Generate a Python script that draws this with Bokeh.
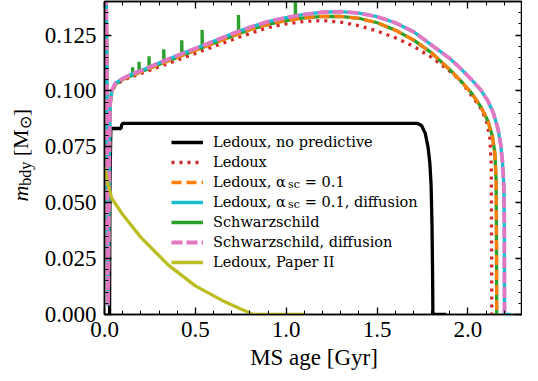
from bokeh.plotting import figure
from bokeh.models import (Range1d, LinearAxis, SingleIntervalTicker, NumeralTickFormatter,
                          CustomJSTickFormatter, Legend, LegendItem, Label, Div)
from bokeh.layouts import row, column
from bokeh.embed import file_html
from bokeh.resources import INLINE

# ---------------- data ----------------
# Ledoux, no predictive
black_x = [0.028, 0.030, 0.035, 0.090, 0.095, 0.100, 1.720, 1.745, 1.765, 1.780,
           1.790, 1.797, 1.802, 1.805, 1.807, 1.880]
black_y = [0.000, 0.060, 0.0832, 0.0832, 0.0848, 0.0855, 0.0855, 0.0845, 0.0810, 0.0750,
           0.0680, 0.0580, 0.0400, 0.0200, 0.0000, 0.0000]

# Ledoux
red_x = [0.008, 0.012, 0.016, 0.020, 0.024, 0.030, 0.040, 0.06, 0.10, 0.20, 0.30, 0.40,
         0.50, 0.60, 0.70, 0.80, 0.90, 1.00, 1.10, 1.20, 1.30, 1.40, 1.50, 1.60, 1.70,
         1.80, 1.90, 1.96, 2.01, 2.065, 2.10, 2.12, 2.128, 2.130, 2.131]
red_y = [0.150, 0.120, 0.030, 0.004, 0.050, 0.093, 0.0995, 0.1025, 0.1048, 0.1078, 0.1108,
         0.1138, 0.1168, 0.1198, 0.1228, 0.1257, 0.1283, 0.1300, 0.1311, 0.1315, 0.1308,
         0.1292, 0.1268, 0.1238, 0.1200, 0.1150, 0.1088, 0.1045, 0.0990, 0.0930, 0.0870,
         0.0795, 0.0670, 0.0300, 0.0000]

# Ledoux, alpha_sc = 0.1
orange_x = [0.008, 0.012, 0.016, 0.020, 0.024, 0.030, 0.040, 0.06, 0.10, 0.20, 0.30, 0.40,
            0.50, 0.60, 0.70, 0.80, 0.90, 1.00, 1.10, 1.20, 1.30, 1.40, 1.50, 1.60, 1.70,
            1.80, 1.90, 1.96, 2.02, 2.07, 2.11, 2.135, 2.148, 2.155, 2.157, 2.158]
orange_y = [0.150, 0.120, 0.030, 0.004, 0.050, 0.093, 0.1000, 0.1030, 0.1052, 0.1085, 0.1118,
            0.1150, 0.1182, 0.1213, 0.1244, 0.1274, 0.1298, 0.1315, 0.1327, 0.1333, 0.1333,
            0.1325, 0.1305, 0.1272, 0.1228, 0.1170, 0.1095, 0.1045, 0.0990, 0.0930, 0.0865,
            0.0795, 0.0720, 0.0600, 0.0300, 0.0000]

# Ledoux, alpha_sc = 0.1, diffusion
cyan_x = [0.008, 0.012, 0.016, 0.020, 0.024, 0.030, 0.040, 0.06, 0.10, 0.15, 0.20, 0.30,
          0.40, 0.50, 0.60, 0.70, 0.80, 0.90, 1.00, 1.10, 1.20, 1.30, 1.40, 1.50, 1.60,
          1.70, 1.80, 1.90, 1.96, 2.02, 2.07, 2.11, 2.14, 2.165, 2.18, 2.19, 2.197, 2.200,
          2.201, 2.235]
cyan_y = [0.150, 0.120, 0.030, 0.004, 0.050, 0.094, 0.1002, 0.1035, 0.1055, 0.1075, 0.1090,
          0.1125, 0.1158, 0.1190, 0.1222, 0.1255, 0.1285, 0.1310, 0.1328, 0.1342, 0.1352,
          0.1355, 0.1348, 0.1332, 0.1305, 0.1265, 0.1205, 0.1145, 0.1100, 0.1050, 0.1005,
          0.0955, 0.0900, 0.0830, 0.0760, 0.0680, 0.0580, 0.0400, 0.0000, 0.0000]

# Schwarzschild (with spikes)
green_x = [0.008, 0.012, 0.016, 0.020, 0.024, 0.030, 0.040, 0.06, 0.10,
           0.155, 0.155, 0.157, 0.190, 0.190, 0.192, 0.245, 0.245, 0.247,
           0.30, 0.326, 0.326, 0.328, 0.40, 0.425, 0.425, 0.427, 0.50,
           0.537, 0.537, 0.539, 0.60, 0.70, 0.737, 0.737, 0.739, 0.80, 0.90, 1.00,
           1.050, 1.050, 1.052, 1.10, 1.20, 1.30, 1.40, 1.50, 1.60, 1.70,
           1.80, 1.90, 1.96, 2.02, 2.07, 2.11, 2.135, 2.148, 2.155, 2.157, 2.158]
green_y = [0.150, 0.120, 0.030, 0.004, 0.050, 0.093, 0.1000, 0.1030, 0.1052,
           0.1070, 0.1106, 0.1071, 0.1081, 0.1130, 0.1082, 0.1100, 0.1155, 0.1101,
           0.1118, 0.1127, 0.1186, 0.1128, 0.1150, 0.1158, 0.1227, 0.1159, 0.1182,
           0.1193, 0.1273, 0.1194, 0.1213, 0.1244, 0.1255, 0.1340, 0.1256, 0.1274, 0.1298, 0.1315,
           0.1321, 0.1420, 0.1322, 0.1327, 0.1333, 0.1333, 0.1325, 0.1305, 0.1272, 0.1228,
           0.1170, 0.1095, 0.1045, 0.0990, 0.0930, 0.0865, 0.0795, 0.0720, 0.0600, 0.0300, 0.0000]

# Schwarzschild, diffusion
pink_x = [0.008, 0.012, 0.016, 0.020, 0.024, 0.030, 0.040, 0.06, 0.10, 0.15, 0.20, 0.30,
          0.40, 0.50, 0.60, 0.70, 0.80, 0.90, 1.00, 1.10, 1.20, 1.30, 1.40, 1.50, 1.60,
          1.70, 1.80, 1.90, 1.96, 2.02, 2.07, 2.11, 2.14, 2.165, 2.18, 2.19, 2.197, 2.200,
          2.201]
pink_y = [0.150, 0.120, 0.030, 0.004, 0.050, 0.094, 0.1002, 0.1035, 0.1055, 0.1075, 0.1090,
          0.1125, 0.1158, 0.1190, 0.1222, 0.1255, 0.1285, 0.1310, 0.1328, 0.1342, 0.1352,
          0.1355, 0.1348, 0.1332, 0.1305, 0.1265, 0.1205, 0.1145, 0.1100, 0.1050, 0.1005,
          0.0955, 0.0900, 0.0830, 0.0760, 0.0680, 0.0580, 0.0400, 0.0000]

# Ledoux, Paper II
olive_x = [0.0, 0.02, 0.04, 0.10, 0.20, 0.35, 0.50, 0.65, 0.75, 0.82, 1.10]
olive_y = [0.066, 0.058, 0.052, 0.0447, 0.0345, 0.0222, 0.0128, 0.0062, 0.0025, 0.0, 0.0]

labels = ["Ledoux, no predictive",
          "Ledoux",
          "Ledoux, \u03b1\u2002\u2002 = 0.1",
          "Ledoux, \u03b1\u2002\u2002 = 0.1, diffusion",
          "Schwarzschild",
          "Schwarzschild, diffusion",
          "Ledoux, Paper II"]

x_ticks_interval = 0.5
y_ticks_interval = 0.025

# ---------------- figure ----------------
SERIF = "Liberation Serif"
FIG_H = 347
p = figure(width=482, height=FIG_H, output_backend="svg", toolbar_location=None,
           x_range=Range1d(0, 2.3), y_range=Range1d(0, 0.14),
           min_border_left=64, min_border_right=0, min_border_top=1, min_border_bottom=33,
           background_fill_color="white", border_fill_color="white")
p.grid.visible = False
p.outline_line_color = "black"
p.outline_line_width = 1.5

xax = p.below[0]
yax = p.left[0]
xax.ticker = SingleIntervalTicker(interval=x_ticks_interval, num_minor_ticks=5)
yax.ticker = SingleIntervalTicker(interval=y_ticks_interval, num_minor_ticks=5)
xax.formatter = NumeralTickFormatter(format="0.0")
yax.formatter = NumeralTickFormatter(format="0.000")

blank = CustomJSTickFormatter(code="return ''")
top_ax = LinearAxis(ticker=SingleIntervalTicker(interval=x_ticks_interval, num_minor_ticks=5),
                    formatter=blank, major_label_standoff=0)
right_ax = LinearAxis(ticker=SingleIntervalTicker(interval=y_ticks_interval, num_minor_ticks=5),
                      formatter=blank, major_label_standoff=0)
p.add_layout(top_ax, "above")
p.add_layout(right_ax, "right")

for ax in (xax, yax, top_ax, right_ax):
    ax.axis_line_color = "black"
    ax.axis_line_width = 1.5
    ax.major_tick_in = 7
    ax.major_tick_out = 0
    ax.minor_tick_in = 4
    ax.minor_tick_out = 0
    ax.major_tick_line_width = 1.3
    ax.minor_tick_line_width = 1.0
    ax.major_tick_line_color = "black"
    ax.minor_tick_line_color = "black"

for ax in (xax, yax):
    ax.major_label_text_font = SERIF
    ax.major_label_text_font_size = "23px"
    ax.major_label_text_color = "black"
xax.major_label_standoff = 7
yax.major_label_standoff = 8

LW = 3.3
r_black = p.line(black_x, black_y, line_color="black", line_width=LW)
r_red = p.line(red_x, red_y, line_color="#d62728", line_width=LW, line_dash="3 5")
r_green = p.line(green_x, green_y, line_color="#2ca02c", line_width=LW)
r_orange = p.line(orange_x, orange_y, line_color="#ff7f0e", line_width=LW, line_dash="10 5")
r_cyan = p.line(cyan_x, cyan_y, line_color="#17becf", line_width=LW)
r_pink = p.line(pink_x, pink_y, line_color="#e377c2", line_width=LW + 0.5, line_dash="11 4")
r_olive = p.line(olive_x, olive_y, line_color="#bcbd22", line_width=LW)

rends = [r_black, r_red, r_orange, r_cyan, r_green, r_pink, r_olive]
legend = Legend(items=[LegendItem(label=l, renderers=[r]) for l, r in zip(labels, rends)],
                location=(67, 42), orientation="vertical",
                glyph_width=32, glyph_height=20, label_height=20, label_standoff=10,
                spacing=0, padding=2, margin=0,
                border_line_color=None, background_fill_color="white", background_fill_alpha=0.0,
                label_text_font="DejaVu Serif", label_text_font_size="14.5px",
                label_text_color="black")
p.add_layout(legend, "center")

# subscripts "sc" in the legend
for ysub in (130.5, 110.5):
    p.add_layout(Label(x=183.5, y=ysub, x_units="screen", y_units="screen", text="sc",
                       text_font="DejaVu Serif", text_font_size="11px",
                       text_baseline="middle", text_align="left", text_color="black",
                       level="overlay"))

# y-axis label as rotated HTML text: m_bdy [M_sun]
ylab_html = (
    '<div style="writing-mode: vertical-rl; transform: rotate(180deg); '
    'margin-left: 9px; margin-top: 109px; line-height: 24px; white-space: nowrap; '
    "font-family: 'Liberation Serif', serif; font-size: 22px; color: black;\">"
    '<i>m</i><sub style="font-size: 16px;">bdy</sub> [M<sub style="font-size: 16px;">'
    '\u2299</sub>]</div>'
)
ylab = Div(text=ylab_html, width=40, height=FIG_H, margin=0)

# x-axis label as HTML text under the plot
xlab_html = (
    '<div style="margin-left: 104px; margin-top: 2px; width: 420px; text-align: center; '
    "line-height: 18px; white-space: nowrap; font-family: 'Liberation Serif', serif; "
    'font-size: 23px; color: black;">MS age [Gyr]</div>'
)
xlab = Div(text=xlab_html, width=522, height=18, margin=0)

layout = column(row(ylab, p, spacing=0), xlab, spacing=0)
open("out.html", "w").write(file_html(layout, INLINE))
